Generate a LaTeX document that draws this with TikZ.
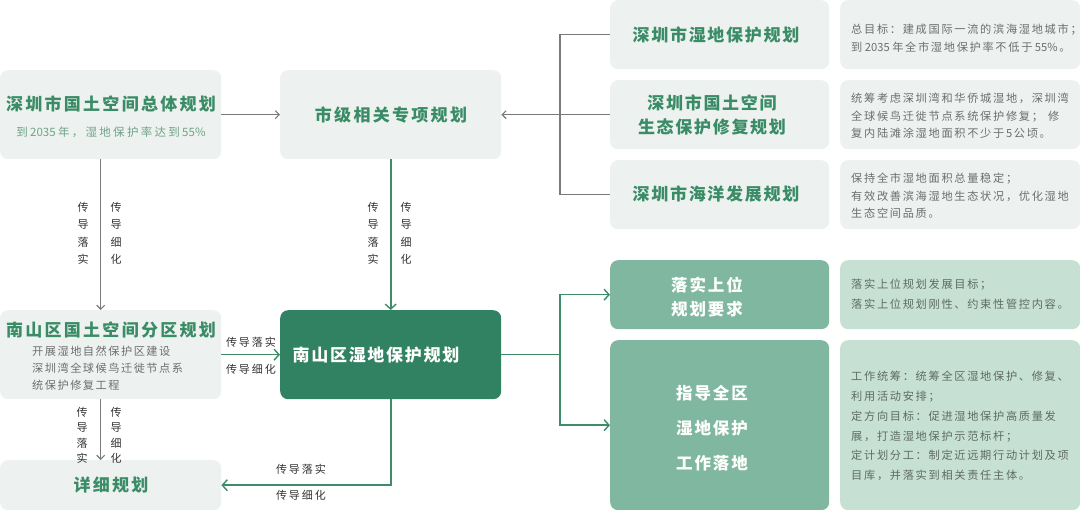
\documentclass[tikz,border=0pt]{standalone}
\usepackage{fontspec}
\setmainfont{Noto Sans CJK SC}
\newfontfamily\cjkl{Noto Sans CJK SC}
\usetikzlibrary{arrows.meta}
\newlength\cjkgap
\setlength\cjkgap{0pt}
\newXeTeXintercharclass\cjkclass
\newcount\cjkcc
\cjkcc="4E00
\loop\XeTeXcharclass\cjkcc=\cjkclass\advance\cjkcc by 1 \ifnum\cjkcc<"A000 \repeat
\cjkcc="3000
\loop\XeTeXcharclass\cjkcc=\cjkclass\advance\cjkcc by 1 \ifnum\cjkcc<"3040 \repeat
\cjkcc="FF00
\loop\XeTeXcharclass\cjkcc=\cjkclass\advance\cjkcc by 1 \ifnum\cjkcc<"FF20 \repeat
\XeTeXinterchartokenstate=1
\XeTeXinterchartoks \cjkclass \cjkclass {\hskip\cjkgap\relax}
\XeTeXinterchartoks 0 \cjkclass {\hskip\cjkgap\relax}
\XeTeXinterchartoks \cjkclass 0 {\hskip\cjkgap\relax}
\definecolor{boxgray}{HTML}{EDF1EF}
\definecolor{titlegreen}{HTML}{3A8C66}
\definecolor{darkgreen}{HTML}{318262}
\definecolor{midgreen}{HTML}{80B7A0}
\definecolor{palegreen}{HTML}{C6E0D4}
\definecolor{descgray}{HTML}{6E6E6E}
\definecolor{igray}{HTML}{5E6B65}
\definecolor{linegray}{HTML}{7A7A7A}
\definecolor{linegreen}{HTML}{3E8C68}
\definecolor{subgreen}{HTML}{6FA38A}
\definecolor{lblcol}{HTML}{333333}
\begin{document}
\begin{tikzpicture}[x=1pt,y=-1pt,
  box/.style={rounded corners=8pt, inner sep=0pt, anchor=north west},
  graybox/.style={box, fill=boxgray},
  dgbox/.style={box, fill=darkgreen},
  mgbox/.style={box, fill=midgreen},
  pgbox/.style={box, fill=palegreen},
  title/.style={font={\setlength\cjkgap{2.3pt}\cjkl\bfseries\fontsize{17}{24}\selectfont}, text=titlegreen, align=center, inner sep=0pt},
  ctitle/.style={title, font={\setlength\cjkgap{1.7pt}\cjkl\bfseries\fontsize{17}{24}\selectfont}},
  wtitle/.style={font={\setlength\cjkgap{1.9pt}\cjkl\bfseries\fontsize{16.5}{24}\selectfont}, text=white, align=center, inner sep=0pt},
  sub/.style={font={\setlength\cjkgap{2.3pt}\cjkl\fontsize{11.5}{17}\selectfont}, text=subgreen, inner sep=0pt},
  esub/.style={font={\setlength\cjkgap{1.5pt}\cjkl\fontsize{11.2}{17}\selectfont}, text=descgray, align=left, inner sep=0pt, anchor=north west},
  desc/.style={font={\setlength\cjkgap{1.7pt}\cjkl\fontsize{11.2}{17.5}\selectfont}, text=descgray, align=left, inner sep=0pt, anchor=west},
  idesc/.style={font={\setlength\cjkgap{1.7pt}\cjkl\fontsize{11.2}{19.8}\selectfont}, text=igray, align=left, inner sep=0pt, anchor=west},
  lbl/.style={font={\setlength\cjkgap{2pt}\cjkl\fontsize{11}{14}\selectfont}, text=lblcol, inner sep=0pt},
  vlbl/.style={font={\cjkl\fontsize{11}{17.5}\selectfont}, text=lblcol, inner sep=0pt, align=center},
  vlbls/.style={font={\cjkl\fontsize{11}{15.5}\selectfont}, text=lblcol, inner sep=0pt, align=center},
  gline/.style={draw=linegray, line width=1.1pt},
  gnline/.style={draw=linegreen, line width=1.6pt},
  garr/.style={gline, -{Straight Barb[length=4pt,width=8pt]}},
  gnarr/.style={gnline, -{Straight Barb[length=5pt,width=11pt,line width=1.4pt]}}
]
\useasboundingbox (0,0) rectangle (1080,510);
\fill[white] (0,0) rectangle (1080,510);

% left column
\node[graybox, minimum width=221pt, minimum height=89pt] (A) at (0,70) {};
\node[title] (At) at (111,104) {深圳市国土空间总体规划};
\node[sub] (As) at (111,132) {到2035年，湿地保护率达到55\%};

\node[graybox, minimum width=221pt, minimum height=89pt] (B) at (280,70) {};
\node[title] (Bt) at (391,115) {市级相关专项规划};

\node[graybox, minimum width=221pt, minimum height=89pt] (E) at (0,310) {};
\node[title] (Et) at (111,330) {南山区国土空间分区规划};
\node[esub] (Es) at (32,346) {开展湿地自然保护区建设\\深圳湾全球候鸟迁徙节点系\\统保护修复工程};

\node[dgbox, minimum width=221pt, minimum height=89pt] (F) at (280,310) {};
\node[wtitle, font={\setlength\cjkgap{1.7pt}\cjkl\bfseries\fontsize{17}{24}\selectfont}] (Ft) at (376,355) {南山区湿地保护规划};

\node[graybox, minimum width=221pt, minimum height=50pt] (G) at (0,460) {};
\node[title] (Gt) at (111,485) {详细规划};

% top-right
\node[graybox, minimum width=219pt, minimum height=69pt] (C1) at (610,0) {};
\node[ctitle] (C1t) at (716,35) {深圳市湿地保护规划};
\node[graybox, minimum width=240pt, minimum height=69pt] (D1) at (840,0) {};
\node[desc] (D1t) at (851,38) {总目标：建成国际一流的滨海湿地城市；\\到 2035 年全市湿地保护率不低于 55\%。};

\node[graybox, minimum width=219pt, minimum height=69pt] (C2) at (610,80) {};
\node[ctitle] (C2t) at (712,115) {深圳市国土空间\\生态保护修复规划};
\node[graybox, minimum width=240pt, minimum height=69pt] (D2) at (840,80) {};
\node[desc] (D2t) at (851,116) {统筹考虑深圳湾和华侨城湿地，深圳湾\\全球候鸟迁徙节点系统保护修复；\hspace{5pt}修\\复内陆滩涂湿地面积不少于5公顷。};

\node[graybox, minimum width=219pt, minimum height=69pt] (C3) at (610,160) {};
\node[ctitle] (C3t) at (716,194.5) {深圳市海洋发展规划};
\node[graybox, minimum width=240pt, minimum height=69pt] (D3) at (840,160) {};
\node[desc] (D3t) at (851,196) {保持全市湿地面积总量稳定；\\有效改善滨海湿地生态状况，优化湿地\\生态空间品质。};

% bottom-right
\node[mgbox, minimum width=219pt, minimum height=69pt] (H1) at (610,260) {};
\node[wtitle] (H1t) at (707,297.5) {落实上位\\规划要求};
\node[pgbox, minimum width=240pt, minimum height=69pt] (I1) at (840,260) {};
\node[idesc] (I1t) at (851,294) {落实上位规划发展目标；\\落实上位规划刚性、约束性管控内容。};

\node[mgbox, minimum width=219pt, minimum height=170pt] (H2) at (610,340) {};
\node[wtitle, font={\setlength\cjkgap{1.9pt}\cjkl\bfseries\fontsize{16.5}{35}\selectfont}] (H2t) at (712,428) {指导全区\\湿地保护\\工作落地};
\node[pgbox, minimum width=240pt, minimum height=170pt] (I2) at (840,340) {};
\node[idesc] (I2t) at (851,426) {工作统筹：统筹全区湿地保护、修复、\\利用活动安排；\\定方向目标：促进湿地保护高质量发\\展，打造湿地保护示范标杆；\\定计划分工：制定近远期行动计划及项\\目库，并落实到相关责任主体。};

% connectors
\coordinate (T) at (560,0);
\draw[garr] (A.east) -- (B.west);
\draw[gline] (C1.west) -- (C1.west -| T) -- (C3.west -| T) -- (C3.west);
\draw[garr] (C2.west) -- (B.east);
\draw[garr] ([xshift=-10pt]A.south) -- ([xshift=-10pt]E.north);
\draw[gnarr] (B.south) -- (F.north);
\draw[garr] ([xshift=-10pt]E.south) -- ([xshift=-10pt]G.north);
\draw[gnarr] (E.east) -- (F.west);
\draw[gnarr] (F.south) |- (G.east);
\draw[gnline] (F.east) -- (F.east -| T);
\draw[gnarr] (F.east -| T) |- (H1.west);
\draw[gnarr] (F.east -| T) |- (H2.west);

% labels
\node[vlbl] (L1) at (83,233.5) {传\\导\\落\\实};
\node[vlbl] (L2) at (116,233.5) {传\\导\\细\\化};
\node[vlbl] (L3) at (373,233.5) {传\\导\\落\\实};
\node[vlbl] (L4) at (406,233.5) {传\\导\\细\\化};
\node[vlbls] (L5) at (82,435.5) {传\\导\\落\\实};
\node[vlbls] (L6) at (116,435.5) {传\\导\\细\\化};
\node[lbl] (L7) at (251,342) {传导落实};
\node[lbl] (L8) at (251,369) {传导细化};
\node[lbl] (L9) at (301,469) {传导落实};
\node[lbl] (L10) at (301,495) {传导细化};
\end{tikzpicture}
\end{document}
